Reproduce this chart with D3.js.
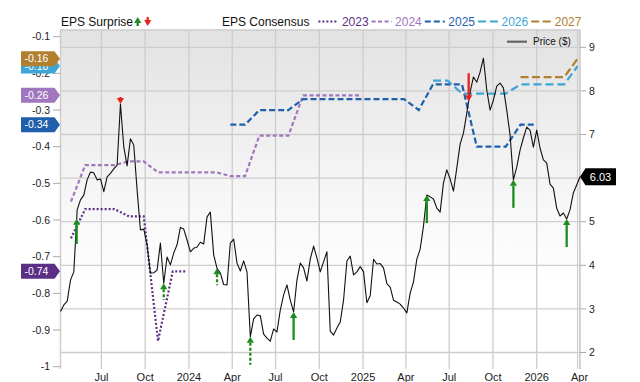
<!DOCTYPE html>
<html><head><meta charset="utf-8">
<script src="https://cdn.jsdelivr.net/npm/d3@7"></script>
<style>
body{margin:0;background:#fff}
svg{display:block;font-family:"Liberation Sans",Arial,Helvetica,sans-serif}
</style>
</head><body>
<svg id="chart" width="640" height="382"></svg>
<script>
// ---------------- DATA ----------------
// Weekly closing price ($), first week starting 2023-04-06
const priceStart = "2023-04-06";
const priceWeekly = [
  2.94,3.09,3.17,3.66,3.85,5.27,5.50,5.61,5.96,6.14,
  6.12,5.96,5.98,5.69,6.03,6.11,6.21,6.30,7.70,6.72,
  6.28,6.90,6.76,5.73,4.81,4.83,4.47,3.82,3.83,3.89,
  4.51,3.59,4.19,4.01,4.28,4.47,4.87,4.83,4.58,4.31,
  4.39,4.42,4.53,4.49,5.11,5.22,4.24,3.93,3.82,3.56,
  3.55,4.51,4.60,4.05,3.87,4.10,3.85,2.36,2.77,2.86,
  2.84,2.42,2.33,2.26,2.54,2.47,2.97,3.32,3.55,3.20,
  2.93,3.66,4.05,3.94,3.64,4.14,4.44,4.17,3.85,4.08,
  4.31,2.49,2.40,2.56,2.70,3.20,4.10,4.21,3.78,3.85,
  3.97,3.85,3.14,3.30,4.14,4.03,4.04,3.94,3.58,3.50,
  3.20,3.16,3.11,3.02,2.91,3.36,3.62,4.14,4.37,4.90,
  5.61,5.57,5.52,5.31,5.22,5.89,6.19,5.98,5.70,6.23,
  6.78,7.03,7.49,7.97,8.32,8.20,8.43,8.75,8.02,7.56,
  7.79,8.11,8.18,8.07,7.56,6.99,5.96,6.25,6.64,6.92,
  7.17,7.10,6.71,7.10,6.69,6.42,6.35,5.86,5.77,5.31,
  5.13,5.20,5.06,5.27,5.66,5.84,6.03
];

// EPS consensus by fiscal year (monthly snapshots)
const eps2023Dates = ["2023-04-28","2023-05-28","2023-06-28","2023-07-28","2023-08-28","2023-09-28","2023-10-28","2023-11-28","2023-12-28"];
const eps2023 = [-0.65,-0.57,-0.57,-0.57,-0.59,-0.59,-0.93,-0.74,-0.74];

const eps2024Dates = ["2023-04-28","2023-05-28","2023-06-28","2023-07-28","2023-08-28","2023-09-28","2023-10-28","2023-11-28","2023-12-28",
  "2024-01-28","2024-02-28","2024-03-28","2024-04-28","2024-05-28","2024-06-28","2024-07-28","2024-08-28","2024-09-28","2024-10-28","2024-11-28","2024-12-28"];
const eps2024 = [-0.55,-0.45,-0.45,-0.45,-0.44,-0.44,-0.47,-0.47,-0.47,-0.47,-0.47,-0.48,-0.48,-0.37,-0.37,-0.37,-0.26,-0.26,-0.26,-0.26,-0.26];

const eps2025Dates = ["2024-03-28","2024-04-28","2024-05-28","2024-06-28","2024-07-28","2024-08-28","2024-09-28","2024-10-28","2024-11-28","2024-12-28",
  "2025-01-28","2025-02-28","2025-03-28","2025-04-28","2025-05-28","2025-06-28","2025-07-28","2025-08-28","2025-09-28","2025-10-28","2025-11-28","2025-12-28"];
const eps2025 = [-0.34,-0.34,-0.30,-0.30,-0.30,-0.27,-0.27,-0.27,-0.27,-0.27,-0.27,-0.27,-0.27,-0.30,-0.23,-0.23,-0.23,-0.40,-0.40,-0.40,-0.34,-0.34];

const eps2026Dates = ["2025-05-28","2025-06-28","2025-07-28","2025-08-28","2025-09-28","2025-10-28","2025-11-28","2025-12-28","2026-01-28","2026-02-28","2026-03-28"];
const eps2026 = [-0.22,-0.22,-0.255,-0.255,-0.255,-0.255,-0.23,-0.23,-0.23,-0.23,-0.18];

const eps2027Dates = ["2025-11-28","2025-12-28","2026-01-28","2026-02-28","2026-03-28"];
const eps2027 = [-0.21,-0.21,-0.21,-0.21,-0.16];

const seriesNames = ["2023","2024","2025","2026","2027"];

// EPS surprises (% beat / miss) at report dates
const surpriseDates = ["2023-05-10","2023-08-10","2023-11-09","2024-02-29","2024-05-09","2024-08-08","2025-05-15","2025-08-11","2025-11-13","2026-03-05"];
const surprisePct   = [18, -5, 12, 12, 30, 25, 40, -35, 30, 25];
const surpriseKind  = ["reported","reported","prelim","prelim","prelim","reported","reported","reported","reported","reported"];

// Axis ticks
const epsTicks = [-1,-0.9,-0.8,-0.7,-0.6,-0.5,-0.4,-0.3,-0.2,-0.1];
const priceTicks = [2,3,4,5,6,7,8,9];
const domainStart = "2023-04-06", domainEnd = "2026-04-02";

// ---------------- STYLE ----------------
const colors = {"2023":"#5c2f87","2024":"#a077be","2025":"#1f5fab","2026":"#3ea6d6","2027":"#b27f2f"};
const dashes = {"2023":"2,2","2024":"4,2.5","2025":"6,3","2026":"8,4","2027":"8,3.5"};
const green = "#1c8c1c", red = "#e8221a";

const parse = d3.utcParse("%Y-%m-%d");
const svg = d3.select("#chart");
const L = 60.5, R = 580, T = 30, B = 369;

const x = d3.scaleUtc().domain([parse(domainStart), parse(domainEnd)]).range([L, R]);
const yEps = d3.scaleLinear().domain([-1, -0.1]).range([366.7, 36.7]);
const yPrice = d3.scaleLinear().domain([2, 9]).range([352.5, 47.3]);

// background gradient
const defs = svg.append("defs");
const grad = defs.append("linearGradient").attr("id","bg").attr("x1",0).attr("y1",0).attr("x2",0).attr("y2",1);
grad.append("stop").attr("offset","0").attr("stop-color","#e2e2e2");
grad.append("stop").attr("offset","0.5").attr("stop-color","#f7f7f7");
grad.append("stop").attr("offset","0.75").attr("stop-color","#ffffff");
defs.append("clipPath").attr("id","clip").append("rect").attr("x",L).attr("y",T).attr("width",R-L).attr("height",B-T);

svg.append("rect").attr("x",L).attr("y",T).attr("width",R-L).attr("height",B-T).attr("fill","url(#bg)");

// grid
const gridC = "#cdcdcd";
const xTicks = x.ticks(d3.utcMonth.every(3));
svg.append("g").selectAll("line").data(xTicks).join("line")
  .attr("x1",d=>x(d)).attr("x2",d=>x(d)).attr("y1",T).attr("y2",B)
  .attr("stroke",gridC).attr("stroke-width",1.3);
svg.append("g").selectAll("line").data(priceTicks).join("line")
  .attr("x1",L).attr("x2",R).attr("y1",d=>yPrice(d)).attr("y2",d=>yPrice(d))
  .attr("stroke",gridC).attr("stroke-width",1.3);
// borders
svg.append("path").attr("d",`M${L},${B}V${T}H${R}V${B}`).attr("fill","none").attr("stroke",gridC).attr("stroke-width",1.5);
svg.append("line").attr("x1",R-2.5).attr("x2",R-2.5).attr("y1",T).attr("y2",B).attr("stroke",gridC).attr("stroke-width",1);

// consensus lines
const epsData = [
  {name:"2023", pts:eps2023Dates.map((d,i)=>({d:parse(d),v:eps2023[i]}))},
  {name:"2024", pts:eps2024Dates.map((d,i)=>({d:parse(d),v:eps2024[i]}))},
  {name:"2025", pts:eps2025Dates.map((d,i)=>({d:parse(d),v:eps2025[i]}))},
  {name:"2026", pts:eps2026Dates.map((d,i)=>({d:parse(d),v:eps2026[i]}))},
  {name:"2027", pts:eps2027Dates.map((d,i)=>({d:parse(d),v:eps2027[i]}))}
];
const epsLine = d3.line().x(p=>x(p.d)).y(p=>yEps(p.v));
const plotG = svg.append("g").attr("clip-path","url(#clip)");
plotG.selectAll("path.eps").data(epsData).join("path").attr("class","eps")
  .attr("d",s=>epsLine(s.pts)).attr("fill","none")
  .attr("stroke",s=>colors[s.name]).attr("stroke-width",2.2)
  .attr("stroke-dasharray",s=>dashes[s.name]);

// price line
const t0 = parse(priceStart);
const priceData = priceWeekly.map((v,i)=>({d:d3.utcDay.offset(t0, 7*i), v}));
const priceLine = d3.line().x(p=>x(p.d)).y(p=>yPrice(p.v));
svg.append("path").attr("d",priceLine(priceData)).attr("fill","none")
  .attr("stroke","#111").attr("stroke-width",1.1).attr("stroke-linejoin","round");

// price at date (linear interpolation)
const bis = d3.bisector(p=>p.d).left;
function priceAt(date){
  const i = Math.max(1, Math.min(priceData.length-1, bis(priceData, date)));
  const a = priceData[i-1], b = priceData[i];
  const t = (date - a.d)/(b.d - a.d);
  return a.v + (b.v - a.v)*Math.max(0,Math.min(1,t));
}

// surprise arrows
const lenScale = d3.scaleLinear().domain([0,20]).range([0,28]).clamp(true);
function arrow(g, cx, tipY, dir, len, col, dashed){
  // dir = -1 points up (tail below), +1 points down (tail above)
  const head = 6, hw = 3.6;
  const baseY = tipY - dir*head;
  const tailY = tipY - dir*Math.max(len, head+1);
  g.append("line").attr("x1",cx).attr("x2",cx).attr("y1",baseY).attr("y2",tailY)
    .attr("stroke",col).attr("stroke-width",2.3)
    .attr("stroke-dasharray", dashed ? "3,2" : null);
  g.append("path").attr("d",`M${cx},${tipY}L${cx-hw},${baseY}L${cx+hw},${baseY}Z`).attr("fill",col);
}
const arrG = svg.append("g");
surpriseDates.forEach((ds,i)=>{
  const d = parse(ds);
  const p = priceAt(d);
  const pos = surprisePct[i] >= 0;
  arrow(arrG, x(d), yPrice(p), pos ? -1 : 1, lenScale(Math.abs(surprisePct[i])), pos ? green : red, surpriseKind[i]==="prelim");
});

// left axis (EPS)
const axC = "#222";
const lg = svg.append("g");
lg.selectAll("line").data(epsTicks).join("line")
  .attr("x1",53).attr("x2",L).attr("y1",d=>yEps(d)).attr("y2",d=>yEps(d))
  .attr("stroke","#aaa").attr("stroke-width",1);
lg.selectAll("text").data(epsTicks).join("text")
  .attr("x",50).attr("y",d=>yEps(d)).attr("dy","0.35em").attr("text-anchor","end")
  .attr("font-size",10.5).attr("fill",axC).text(d=>String(+d.toFixed(1)));

// right axis (price)
const rg = svg.append("g");
rg.selectAll("line").data(priceTicks).join("line")
  .attr("x1",R).attr("x2",R+6).attr("y1",d=>yPrice(d)).attr("y2",d=>yPrice(d))
  .attr("stroke","#aaa").attr("stroke-width",1);
rg.selectAll("text").data(priceTicks).join("text")
  .attr("x",589).attr("y",d=>yPrice(d)).attr("dy","0.35em")
  .attr("font-size",10.5).attr("fill",axC).text(d=>d);

// bottom axis
const fmtQ = d => d.getUTCMonth()===0 ? d3.utcFormat("%Y")(d) : d3.utcFormat("%b")(d);
svg.append("g").selectAll("text").data(xTicks).join("text")
  .attr("x",d=>x(d)).attr("y",380.5).attr("text-anchor","middle")
  .attr("font-size",11).attr("fill",axC).text(fmtQ);

// left badges (latest consensus)
const bg = svg.append("g");
epsData.forEach(s=>{
  const last = s.pts[s.pts.length-1];
  const cy = yEps(last.v);
  bg.append("path").attr("d",`M21,${cy-7.5}H54.5L60,${cy}L54.5,${cy+7.5}H21Z`).attr("fill",colors[s.name]);
  bg.append("text").attr("x",24.5).attr("y",cy).attr("dy","0.36em").attr("font-size",10.5)
    .attr("fill","#fff").text(last.v.toFixed(2));
});

// right badge (last price)
const lastP = priceData[priceData.length-1];
const pcy = yPrice(lastP.v);
svg.append("path").attr("d",`M${R},${pcy}L${R+5.5},${pcy-8.5}H616V${pcy+8.5}H${R+5.5}Z`).attr("fill","#000");
svg.append("text").attr("x",600.5).attr("y",pcy).attr("dy","0.36em").attr("text-anchor","middle")
  .attr("font-size",11).attr("fill","#fff").text(lastP.v.toFixed(2));

// legend top
const legY = 25.5, fs = 12;
svg.append("text").attr("x",61).attr("y",legY).attr("font-size",fs).attr("fill","#111").text("EPS Surprise");
arrow(svg.append("g"), 137.7, 17, -1, 9, green, false);
arrow(svg.append("g"), 147.7, 26, 1, 9, red, false);
const consT = svg.append("text").attr("x",222).attr("y",legY).attr("font-size",fs).attr("fill","#111").text("EPS Consensus");
let lx = 222 + consT.node().getComputedTextLength() + 9;
seriesNames.forEach(n=>{
  svg.append("line").attr("x1",lx).attr("x2",lx+20).attr("y1",21.5).attr("y2",21.5)
    .attr("stroke",colors[n]).attr("stroke-width",2.2).attr("stroke-dasharray",dashes[n]);
  const t = svg.append("text").attr("x",lx+23.5).attr("y",legY).attr("font-size",fs).attr("fill",colors[n]).text(n);
  lx += 23.5 + t.node().getComputedTextLength() + 3;
});

// price legend inside plot
svg.append("line").attr("x1",507).attr("x2",527).attr("y1",41.7).attr("y2",41.7).attr("stroke","#666").attr("stroke-width",2.2);
svg.append("text").attr("x",533).attr("y",41.7).attr("dy","0.35em").attr("font-size",10).attr("fill","#111").text("Price ($)");
</script>
</body></html>
